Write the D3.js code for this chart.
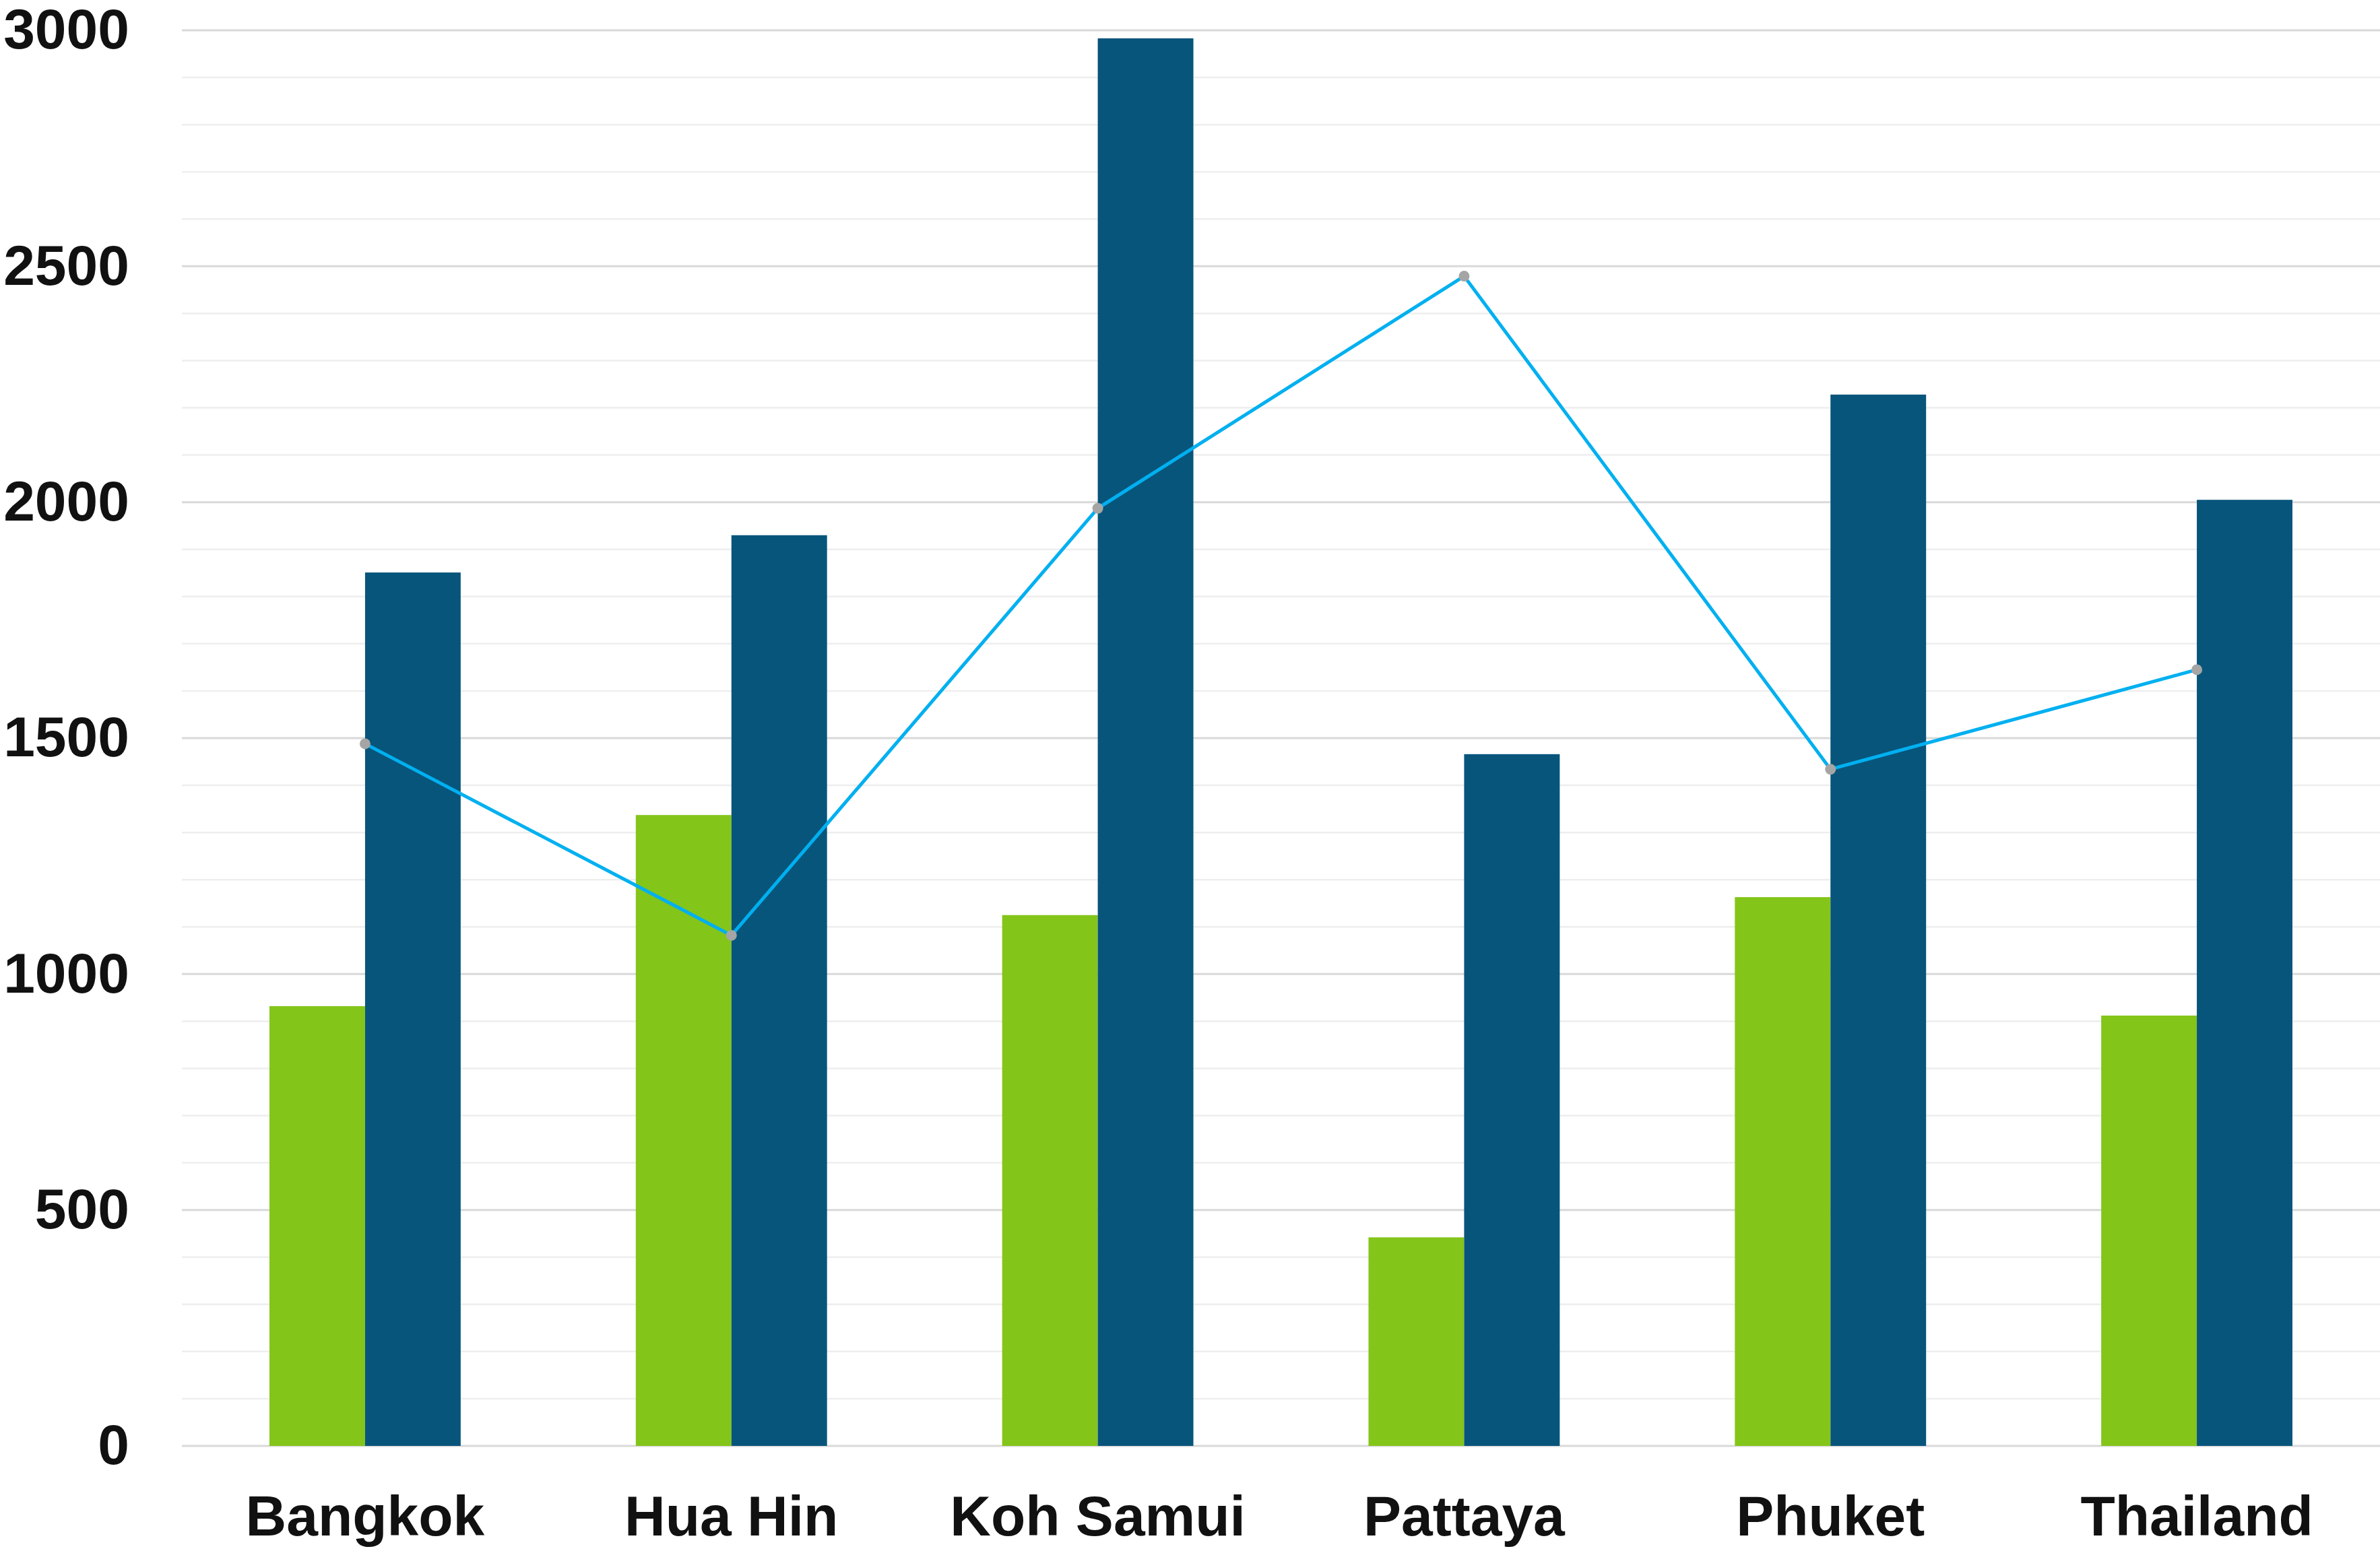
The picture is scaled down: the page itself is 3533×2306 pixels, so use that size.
<!DOCTYPE html>
<html lang="en">
<head>
  <meta charset="UTF-8">
  <title>Thailand destinations</title>
  <style>
    body { margin: 0; background: #fff; }
    text { font-family: "Liberation Sans", Arial, sans-serif; font-weight: bold; fill: #111; }
  </style>
</head>
<body>
  <div id="chart"></div>

  <script src="https://d3js.org/d3.v7.min.js"></script>
  <script>
    // data
    var categories = ["Bangkok", "Hua Hin", "Koh Samui", "Pattaya", "Phuket", "Thailand"];
    var greenValues = [932, 1337, 1125, 442, 1163, 912];
    var blueValues = [1851, 1930, 2983, 1466, 2228, 2005];
    var lineValues = [1488, 1082, 1987, 2479, 1434, 1645];
    var yTicks = [0, 500, 1000, 1500, 2000, 2500, 3000];

    var width = 3533, height = 2306;
    var margin = {top: 45, right: 0, bottom: 159, left: 270};

    var svg = d3.select("#chart")
      .append("svg")
      .attr("width", width)
      .attr("height", height);

    // scales
    var x = d3.scaleBand()
      .domain(categories)
      .range([margin.left, width - margin.right])
      .paddingInner(0.478)
      .paddingOuter(0.239);

    var xSub = d3.scaleBand()
      .domain(["green", "blue"])
      .range([0, x.bandwidth()]);

    var y = d3.scaleLinear()
      .domain([0, 3000])
      .range([height - margin.bottom, margin.top]);

    // minor gridlines every 100, major every 500
    var minor = d3.range(0, 3001, 100).filter(function(v) { return v % 500 !== 0; });
    svg.append("g")
      .selectAll("line")
      .data(minor)
      .enter()
      .append("line")
      .attr("x1", margin.left)
      .attr("x2", width - margin.right)
      .attr("y1", function(d) { return y(d); })
      .attr("y2", function(d) { return y(d); })
      .style("stroke", "#eeeeee")
      .style("stroke-width", 2.5);

    svg.append("g")
      .selectAll("line")
      .data(yTicks)
      .enter()
      .append("line")
      .attr("x1", margin.left)
      .attr("x2", width - margin.right)
      .attr("y1", function(d) { return y(d); })
      .attr("y2", function(d) { return y(d); })
      .style("stroke", "#d9d9d9")
      .style("stroke-width", 3);

    // y axis labels
    var yAxis = svg.append("g")
      .attr("transform", "translate(192,0)")
      .call(d3.axisLeft(y).tickValues(yTicks).tickFormat(d3.format("d")).tickSize(0).tickPadding(0));
    yAxis.select(".domain").remove();
    yAxis.selectAll("text")
      .style("font-size", "84px")
      .style("font-family", "'Liberation Sans', Arial, sans-serif")
      .style("font-weight", "bold")
      .attr("fill", "#111");

    // x axis labels
    var xAxis = svg.append("g")
      .attr("transform", "translate(0," + y(0) + ")")
      .call(d3.axisBottom(x).tickSize(0).tickPadding(73));
    xAxis.select(".domain").remove();
    xAxis.selectAll("text")
      .style("font-size", "84px")
      .style("font-family", "'Liberation Sans', Arial, sans-serif")
      .style("font-weight", "bold")
      .attr("fill", "#111");

    // bars
    var groups = svg.append("g")
      .selectAll("g")
      .data(categories)
      .enter()
      .append("g")
      .attr("transform", function(d) { return "translate(" + x(d) + ",0)"; });

    groups.append("rect")
      .attr("x", xSub("green"))
      .attr("width", xSub.bandwidth())
      .attr("y", function(d, i) { return y(greenValues[i]); })
      .attr("height", function(d, i) { return y(0) - y(greenValues[i]); })
      .style("fill", "#84c51a");

    groups.append("rect")
      .attr("x", xSub("blue"))
      .attr("width", xSub.bandwidth())
      .attr("y", function(d, i) { return y(blueValues[i]); })
      .attr("height", function(d, i) { return y(0) - y(blueValues[i]); })
      .style("fill", "#08557b");

    // line series at the middle of each group
    var lineData = categories.map(function(c, i) { return {cat: c, value: lineValues[i]}; });
    var line = d3.line()
      .x(function(d) { return x(d.cat) + x.bandwidth() / 2; })
      .y(function(d) { return y(d.value); });

    svg.append("path")
      .datum(lineData)
      .attr("d", line)
      .style("fill", "none")
      .style("stroke", "#00b0f0")
      .style("stroke-width", 5);

    svg.append("g")
      .selectAll("circle")
      .data(lineData)
      .enter()
      .append("circle")
      .attr("cx", function(d) { return x(d.cat) + x.bandwidth() / 2; })
      .attr("cy", function(d) { return y(d.value); })
      .attr("r", 8)
      .style("fill", "#a5a5a5");
  </script>
</body>
</html>
